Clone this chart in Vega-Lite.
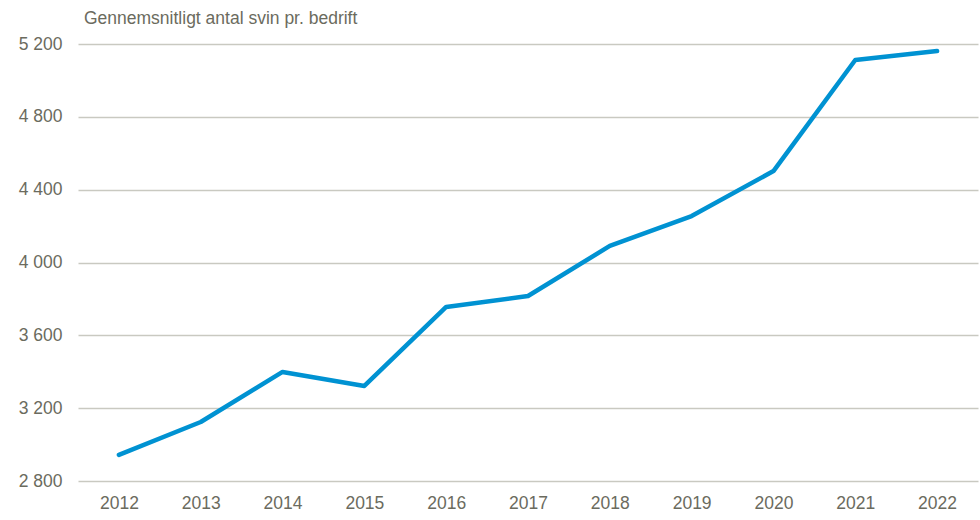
{
  "$schema": "https://vega.github.io/schema/vega-lite/v6.json",
  "autosize": "none",
  "width": 900,
  "height": 437,
  "padding": {"left": 78, "top": 44, "right": 2, "bottom": 39},
  "background": "white",
  "title": {
    "text": "Gennemsnitligt antal svin pr. bedrift",
    "anchor": "start",
    "frame": "group",
    "dx": 6,
    "offset": 8,
    "font": "Liberation Sans",
    "fontSize": 17.5,
    "fontWeight": "normal",
    "color": "#6b6b5e"
  },
  "data": {
    "values": [
      {"year": "2012", "value": 2943},
      {"year": "2013", "value": 3124},
      {"year": "2014", "value": 3399},
      {"year": "2015", "value": 3322},
      {"year": "2016", "value": 3756},
      {"year": "2017", "value": 3816},
      {"year": "2018", "value": 4091},
      {"year": "2019", "value": 4255},
      {"year": "2020", "value": 4502},
      {"year": "2021", "value": 5112},
      {"year": "2022", "value": 5161}
    ]
  },
  "mark": {"type": "line", "color": "#0092d2", "strokeWidth": 4.5, "strokeCap": "round", "strokeJoin": "round"},
  "encoding": {
    "x": {
      "field": "year",
      "type": "ordinal",
      "scale": {"type": "point", "padding": 0.5},
      "axis": {
        "title": null,
        "labelAngle": 0,
        "domain": false,
        "ticks": false,
        "grid": false,
        "labelPadding": 13,
        "labelFont": "Liberation Sans",
        "labelFontSize": 17.5,
        "labelColor": "#6b6b5e"
      }
    },
    "y": {
      "field": "value",
      "type": "quantitative",
      "scale": {"domain": [2800, 5200], "nice": false, "zero": false},
      "axis": {
        "title": null,
        "values": [2800, 3200, 3600, 4000, 4400, 4800, 5200],
        "labelExpr": "replace(format(datum.value, ','), ',', ' ')",
        "domain": false,
        "ticks": false,
        "grid": true,
        "gridColor": "#c9c9c1",
        "gridWidth": 1.5,
        "labelPadding": 16,
        "labelFont": "Liberation Sans",
        "labelFontSize": 17.5,
        "labelColor": "#6b6b5e"
      }
    }
  },
  "config": {"view": {"stroke": null}}
}
